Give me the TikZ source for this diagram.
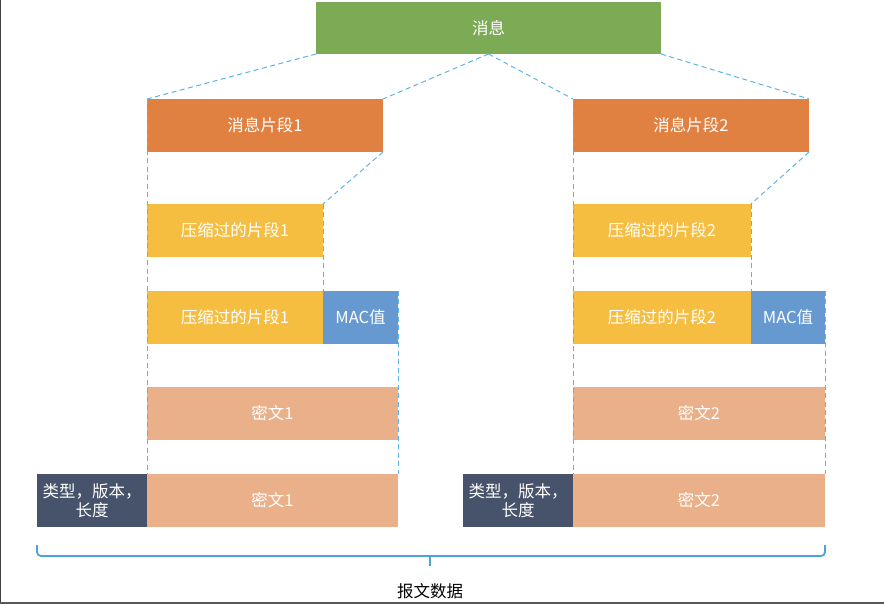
\documentclass[tikz,border=0pt]{standalone}
\usepackage{fontspec}
\setmainfont{Noto Sans CJK SC}
\definecolor{cgreen}{HTML}{7DAB55}
\definecolor{corange}{HTML}{E08142}
\definecolor{cyellow}{HTML}{F5BE41}
\definecolor{cblue}{HTML}{6699CF}
\definecolor{cpeach}{HTML}{EAB089}
\definecolor{cdark}{HTML}{46536A}
\definecolor{dashblue}{HTML}{5EB3E4}
\definecolor{braceblue}{HTML}{4AA3DF}
\begin{document}
\begin{tikzpicture}[x=1pt,y=-1pt,
  box/.style={rectangle,inner sep=0pt,outer sep=0pt,anchor=north west,text=white,
    font=\fontsize{16.5}{19.5}\selectfont,align=center,minimum height=53pt},
  dsh/.style={draw=dashblue,line width=1pt,dash pattern=on 5pt off 3.5pt},
  brace/.style={draw=braceblue,line width=1.8pt,rounded corners=4pt}]
\useasboundingbox (0,0) rectangle (884,604);
% top
\node[box,fill=cgreen,minimum width=345pt,minimum height=52pt] (msg) at (316,2) {消息};
\node[box,fill=corange,minimum width=236pt] (f1) at (147,99) {消息片段1};
\node[box,fill=corange,minimum width=236pt] (f2) at (573,99) {消息片段2};
% left column
\node[box,fill=cyellow,minimum width=176pt] (z1) at (147,204) {压缩过的片段1};
\node[box,fill=cyellow,minimum width=176pt] (z1b) at (147,291) {压缩过的片段1};
\node[box,fill=cblue,minimum width=75pt] (mac1) at (323,291) {MAC值};
\node[box,fill=cpeach,minimum width=251pt] (e1) at (147,387) {密文1};
\node[box,fill=cdark,minimum width=110pt] (t1) at (37,474) {类型，版本，\\长度};
\node[box,fill=cpeach,minimum width=251pt] (e1b) at (147,474) {密文1};
% right column
\node[box,fill=cyellow,minimum width=178pt] (z2) at (573,204) {压缩过的片段2};
\node[box,fill=cyellow,minimum width=178pt] (z2b) at (573,291) {压缩过的片段2};
\node[box,fill=cblue,minimum width=74pt] (mac2) at (751,291) {MAC值};
\node[box,fill=cpeach,minimum width=252pt] (e2) at (573,387) {密文2};
\node[box,fill=cdark,minimum width=110pt] (t2) at (463,474) {类型，版本，\\长度};
\node[box,fill=cpeach,minimum width=252pt] (e2b) at (573,474) {密文2};
% dashed connectors
\draw[dsh] (msg.south west) -- (f1.north west);
\draw[dsh] (msg.south) -- (f1.north east);
\draw[dsh] (msg.south) -- (f2.north west);
\draw[dsh] (msg.south east) -- (f2.north east);
\draw[dsh] (f1.south east) -- (z1.north east);
\draw[dsh] (f2.south east) -- (z2.north east);
\draw[dsh] (f1.north west) -- (e1b.north west);
\draw[dsh] (f2.north west) -- (e2b.north west);
\draw[dsh] (z1.north east) -- (z1b.north east);
\draw[dsh] (z2.north east) -- (z2b.north east);
\draw[dsh] (mac1.north east) -- (e1b.north east);
\draw[dsh] (mac2.north east) -- (e2b.north east);
% brace
\coordinate (bl) at ([yshift=-29pt]t1.south west);
\coordinate (br) at ([yshift=-29pt]e2b.south east);
\coordinate (bm) at (430,556);
\draw[brace] ([yshift=11pt]bl) -- (bl) -- (br) -- ([yshift=11pt]br);
\draw[draw=braceblue,line width=1.8pt] (bm) -- ++(0,10);
\node[font=\fontsize{16.5}{19.5}\selectfont,text=black,inner sep=0pt] (lbl) at (430,591) {报文数据};
% frame edges
\draw[line width=1.4pt,black!75] (0.7,0) -- (0.7,604);
\draw[line width=1.6pt,black!65] (0,603.2) -- (884,603.2);
\end{tikzpicture}
\end{document}
